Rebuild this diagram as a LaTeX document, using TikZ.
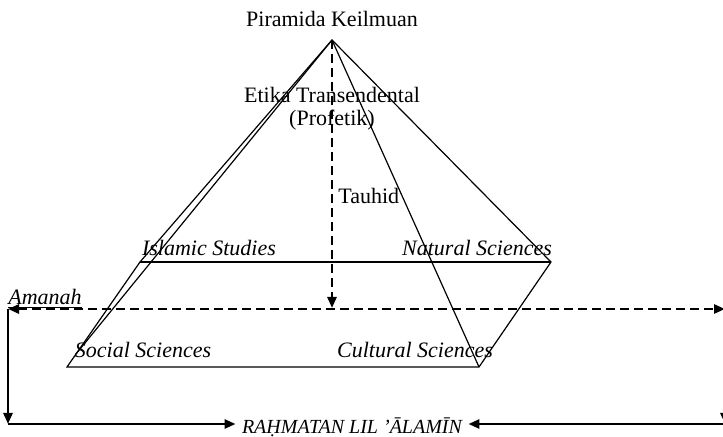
\documentclass[tikz,border=0pt]{standalone}
\usepackage{fontspec}
\setmainfont{Liberation Serif}
\usetikzlibrary{arrows.meta}

\begin{document}
\begin{tikzpicture}[
    x=0.5pt, y=-0.5pt,
    font=\fontsize{11}{13}\selectfont,
    >={Triangle[length=5.5pt, width=4.5pt]},
    edge/.style={black, line width=0.6pt},
    flow/.style={black, line width=1.3pt, ->},
    dashflow/.style={black, line width=1.3pt, dash pattern=on 4.5pt off 2.5pt},
    tag/.style={inner sep=1pt},
    field/.style={font=\fontsize{11}{13}\selectfont\itshape, inner sep=1pt},
]

% --- Page frame ---
\useasboundingbox (0,0) rectangle (723,437);

% --- Pyramid corners ---
\coordinate (apex) at (332,40);
\coordinate (bl) at (140,262);
\coordinate (br) at (551,262);
\coordinate (fl) at (67,367);
\coordinate (fr) at (479,367);
\coordinate (inner) at (76,354);

% --- Pyramid outline ---
\draw[edge] (apex) -- (bl) -- (fl) -- (fr) -- (br) -- cycle;
\draw[edge] (bl) -- (br);
\draw[edge] (apex) -- (fr);
\draw[edge] (apex) -- (inner);

% --- Titles and inner labels ---
\node[tag] (title) at (332,19) {Piramida Keilmuan};
\node[tag] (etika) at (332,95) {Etika Transendental};
\node[tag] (profetik) at (332,120) {(Profetik)};
\node[tag, anchor=west] (tauhid) at (336,196) {Tauhid};

% --- Knowledge fields on the base ---
\node[field] (islamic) at (209,248) {Islamic Studies};
\node[field] (natural) at (477,248) {Natural Sciences};
\node[field] (social) at (143,350) {Social Sciences};
\node[field] (cultural) at (415,350) {Cultural Sciences};

% --- Tauhid axis down to the amanah line ---
\coordinate (axisend) at (332,308);
\draw[dashflow, ->] (apex) -- (axisend);

% --- Amanah line with side returns ---
\coordinate (amL) at (8,309);
\coordinate (amR) at (725,309);
\coordinate (botL) at (8,424);
\coordinate (botR) at (725,424);
\draw[dashflow, <->] (amL) -- (amR);
\node[field, inner sep=0.5pt] (amanah) at (45,299) {\underline{Amanah}};

% --- Outcome at the bottom ---
\node[inner sep=3pt, font=\fontsize{10}{12}\selectfont\itshape] (rahmat) at (352,427) {RAḤMATAN LIL ’ĀLAMĪN};
\draw[flow] (amL) -- (botL);
\draw[flow] (botL) -- (rahmat.west |- botL);
\draw[flow] (amR) -- (botR);
\draw[flow] (botR) -- (rahmat.east |- botR);

\end{tikzpicture}
\end{document}
